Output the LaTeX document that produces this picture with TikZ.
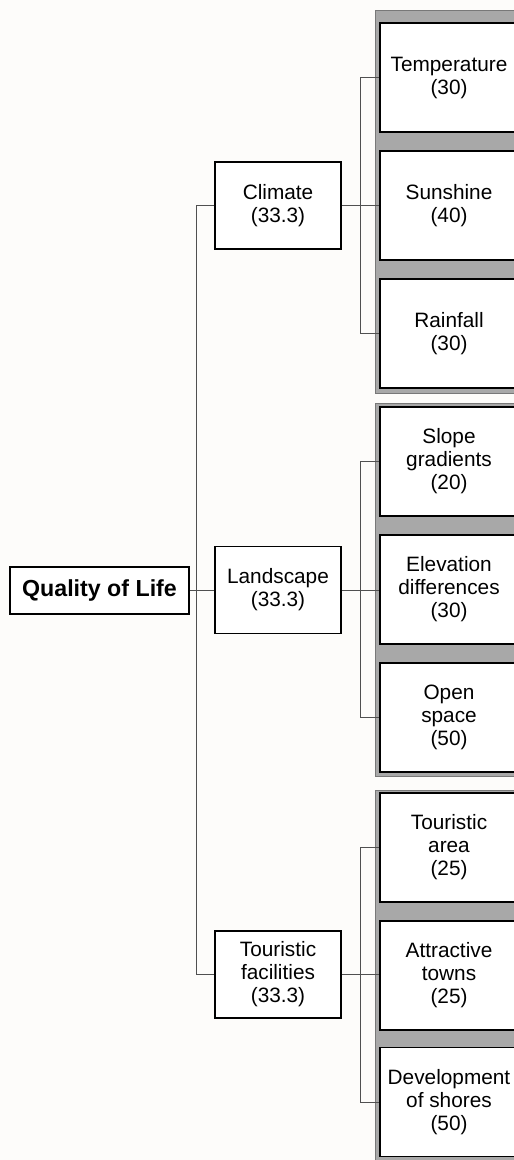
\documentclass[tikz,border=0pt]{standalone}
\usepackage{fontspec}
\setmainfont{Liberation Sans}
\definecolor{bgc}{RGB}{253,252,250}
\definecolor{panelfill}{RGB}{168,168,168}
\definecolor{paneledge}{RGB}{120,120,120}
\definecolor{conncol}{RGB}{80,80,80}
\begin{document}
\begin{tikzpicture}[x=1pt,y=-1pt,
  box/.style={draw=black, line width=1.5pt, fill=white, align=center, inner sep=0pt,
              font=\fontsize{20.8}{23}\selectfont},
  leaf/.style={box, minimum width=138pt, minimum height=109pt},
  mid/.style={box, minimum width=126pt, minimum height=87pt},
  rootbox/.style={box, line width=2pt, minimum width=179pt, minimum height=47pt,
              font=\fontsize{23.2}{26}\selectfont\bfseries},
  panel/.style={draw=paneledge, line width=1pt, fill=panelfill},
  conn/.style={draw=conncol, line width=0.8pt}]
\useasboundingbox (0,0) rectangle (514,1160);
\fill[bgc] (0,0) rectangle (514,1160);
\clip (0,0) rectangle (514,1160);
% panels
\draw[panel] (375,10) rectangle (524,393);
\draw[panel] (375,403) rectangle (524,776);
\draw[panel] (375,790) rectangle (524,1170);
% leaves
\node[leaf] (temp)  at (449,77.5)  {Temperature\\(30)};
\node[leaf] (sun)   at (449,205.5) {Sunshine\\(40)};
\node[leaf] (rain)  at (449,333.5) {Rainfall\\(30)};
\node[leaf] (slope) at (449,461.5) {Slope\\gradients\\(20)};
\node[leaf] (elev)  at (449,589.5) {Elevation\\differences\\(30)};
\node[leaf] (open)  at (449,717.5) {Open\\space\\(50)};
\node[leaf] (tarea) at (449,847.5) {Touristic\\area\\(25)};
\node[leaf] (towns) at (449,975.5) {Attractive\\towns\\(25)};
\node[leaf] (dev)   at (449,1102)  {Development\\of shores\\(50)};
% mid
\node[mid] (climate) at (278,205.5) {Climate\\(33.3)};
\node[mid] (land)    at (278,590)   {Landscape\\(33.3)};
\node[mid] (tour)    at (278,974.5) {Touristic\\facilities\\(33.3)};
% root
\node[rootbox] (root) at (99.5,590) {Quality of Life};
% connectors
\draw[conn] (root.east) -- (land.west);
\draw[conn] (climate.west) -- ++(-18,0) |- (tour.west);
\draw[conn] (temp.west) -- ++(-19,0) |- (rain.west);
\draw[conn] (climate.east) -- (climate.east -| sun.west);
\draw[conn] (slope.west) -- ++(-19,0) |- (open.west);
\draw[conn] (land.east) -- (land.east -| elev.west);
\draw[conn] (tarea.west) -- ++(-19,0) |- (dev.west);
\draw[conn] (tour.east) -- (tour.east -| towns.west);
\end{tikzpicture}
\end{document}
